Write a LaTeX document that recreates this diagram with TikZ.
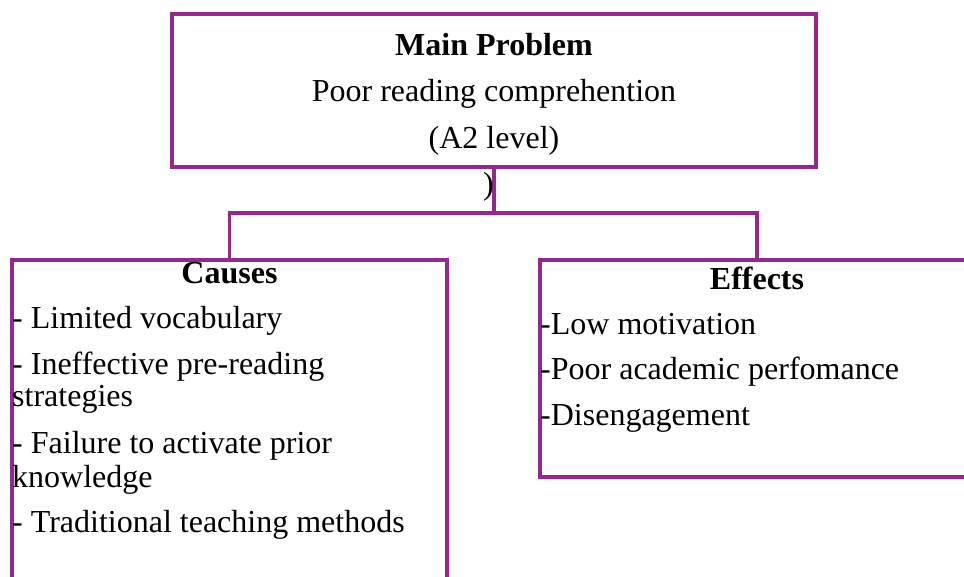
\documentclass[tikz,border=0pt]{standalone}
\usepackage{fontspec}
\setmainfont{Liberation Serif}
\definecolor{plum}{RGB}{147,41,141}
\tikzset{
	box/.style={draw=plum, line width=3.6pt, rectangle, inner sep=0pt},
	link/.style={draw=plum, line width=3.6pt},
	txt/.style={inner sep=0pt, font=\fontsize{32}{34}\selectfont},
	head/.style={inner sep=0pt, font=\fontsize{32}{34}\selectfont\bfseries}
}

\begin{document}
\begin{tikzpicture}[x=1pt, y=-1pt]
	\useasboundingbox (0,0) rectangle (964,576);
	%Main problem
		\node[box, minimum width=644, minimum height=153] (main) at (494,90.5) {};
		\node[head, anchor=base] (mainhead) at (494,55) {Main Problem};
		\node[txt, anchor=base] (problem) at (494,101.5) {Poor reading comprehention};
		\node[txt, anchor=base] (level) at (494,148) {(A2 level)};
	%Causes
		\node[box, minimum width=435, minimum height=340] (causes) at (229.5,430) {};
		\node[head, anchor=base] (causeshead) at (229.5,283) {Causes};
		\foreach \n/\y/\t in {1/328/{- Limited vocabulary}, 2/374/{- Ineffective pre-reading}, 3/406/strategies, 4/453/{- Failure to activate prior}, 5/487/knowledge, 6/532/{- Traditional teaching methods}}
			\node[txt, anchor=base west] (cause\n) at (12,\y) {\t};
	%Effects
		\node[box, minimum width=434, minimum height=217] (effects) at (757,368.5) {};
		\node[head, anchor=base] (effectshead) at (757,289) {Effects};
		\foreach \n/\y/\t in {1/334/{-Low motivation}, 2/379/{-Poor academic perfomance}, 3/425/-Disengagement}
			\node[txt, anchor=base west] (effect\n) at (540,\y) {\t};
	%connectors
		\coordinate (split) at (494,213);
		\draw[link] (main.south) -- (split);
		\draw[link] (causes.north) |- (split) -| (effects.north);
		\node[txt, anchor=base east] (paren) at (494,194) {)};
\end{tikzpicture}
\end{document}
